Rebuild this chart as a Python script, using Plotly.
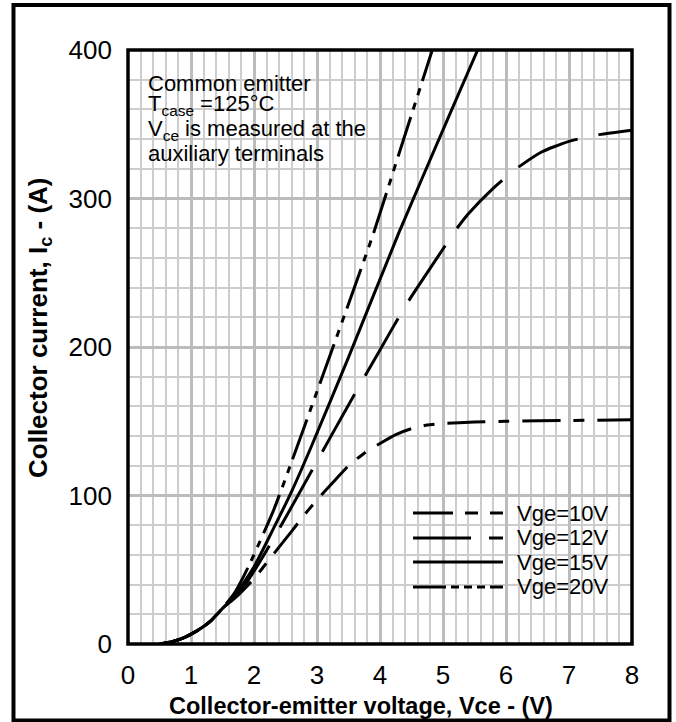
import plotly.graph_objects as go

# Output characteristics, Tcase = 125 °C
vce_10 = [0.5, 0.7, 0.9, 1.1, 1.3, 1.5, 1.7, 2.0, 2.28, 2.6, 2.8, 3.0, 3.3, 3.5, 3.75,
          4.0, 4.25, 4.5, 4.75, 5.0, 5.5, 6.0, 7.0, 8.0]
ic_10 = [0, 1.5, 4.5, 9, 15, 24, 31, 44, 59, 76, 87, 97, 111, 120, 128.5,
         135, 141, 145, 147.5, 148.5, 149.5, 150, 150.5, 151]

vce_12 = [0.5, 0.7, 0.9, 1.1, 1.3, 1.5, 1.7, 1.81, 2.0, 2.31, 2.5, 3.0, 3.5, 4.0, 4.38,
          4.56, 5.0, 5.17, 5.41, 5.8, 6.13, 6.55, 7.0, 7.48, 8.0]
ic_12 = [0, 1.5, 4.5, 9, 15, 24, 32, 37, 49, 71, 85, 123, 161, 198, 226,
         238, 266, 277, 290, 307, 319, 331, 338.5, 343, 346]

vce_15 = [0.5, 0.7, 0.9, 1.1, 1.3, 1.5, 1.7, 2.0, 2.3, 2.6, 2.89, 3.5, 4.3, 5.12, 5.55]
ic_15 = [0, 1.5, 4.5, 9, 15, 24, 33, 52, 77, 103, 131, 193, 277, 358, 400]

vce_20 = [0.5, 0.7, 0.9, 1.1, 1.3, 1.5, 1.7, 1.91, 2.31, 2.6, 3.0, 3.5, 3.9, 4.3, 4.83]
ic_20 = [0, 1.5, 4.5, 9, 15, 24, 35, 52, 90, 123, 170, 229, 277, 330, 400]

series_names = ["Vge=10V", "Vge=12V", "Vge=15V", "Vge=20V"]
curve_dash = ["38px,13px,11px,13px", "66px,21px", "solid", "42px,8px,7px,8px,7px,8px"]
key_dash = ["40px,12px,13px,12px,13px", "58px,18px,14px", "solid",
            "33px,5px,8px,5px,8px,5px,8px,5px,14px"]

x_ticks = [0, 1, 2, 3, 4, 5, 6, 7, 8]
y_ticks = [0, 100, 200, 300, 400]

note_lines = [
    "Common emitter",
    "T<sub>case</sub> =125°C",
    "V<sub>ce</sub> is measured at the",
    "auxiliary terminals",
]

FONT = "Liberation Sans, Arial, Helvetica, sans-serif"

fig = go.Figure()
for xs, ys, dash in zip([vce_10, vce_12, vce_15, vce_20],
                        [ic_10, ic_12, ic_15, ic_20], curve_dash):
    fig.add_trace(go.Scatter(
        x=xs, y=ys, mode="lines",
        line=dict(color="black", width=3, dash=dash, shape="spline", smoothing=0.6),
        showlegend=False, hoverinfo="skip",
    ))

shapes = []
# white panels behind the note and the key
shapes.append(dict(type="rect", xref="paper", yref="paper", x0=0.018, x1=0.484,
                   y0=0.79, y1=0.988, fillcolor="white", line=dict(width=0), layer="between"))
shapes.append(dict(type="rect", xref="paper", yref="paper", x0=0.546, x1=0.96,
                   y0=0.054, y1=0.259, fillcolor="white", line=dict(width=0), layer="between"))

# key line samples
key_y = [0.2205, 0.1785, 0.138, 0.096]
for yk, dash in zip(key_y, key_dash):
    shapes.append(dict(type="line", xref="paper", yref="paper", x0=0.5655, x1=0.744,
                       y0=yk, y1=yk, line=dict(color="black", width=3, dash=dash)))

# plot frame and outer frame
shapes.append(dict(type="rect", xref="paper", yref="paper", x0=0, x1=1, y0=0, y1=1,
                   line=dict(color="black", width=3.5)))
shapes.append(dict(type="rect", xref="paper", yref="paper", x0=-0.2272, x1=1.0744,
                   y0=-0.1288, y1=1.0758, line=dict(color="black", width=4)))

annotations = []
note_y = [0.9438, 0.9067, 0.8646, 0.8259]
for txt, yy in zip(note_lines, note_y):
    annotations.append(dict(text=txt, xref="paper", yref="paper", x=0.0357, y=yy,
                            xanchor="left", yanchor="middle", showarrow=False,
                            font=dict(family=FONT, size=22, color="black")))
for name, yk in zip(series_names, key_y):
    annotations.append(dict(text=name, xref="paper", yref="paper", x=0.7679, y=yk,
                            xanchor="left", yanchor="middle", showarrow=False,
                            font=dict(family=FONT, size=22, color="black")))

annotations.append(dict(text="<b>Collector-emitter voltage, Vce - (V)</b>",
                        xref="paper", yref="paper", x=0.4623, y=-0.1044,
                        xanchor="center", yanchor="middle", showarrow=False,
                        font=dict(family=FONT, size=23.5, color="black")))
annotations.append(dict(text="<b>Collector current, I<sub>c</sub> - (A)</b>",
                        xref="paper", yref="paper", x=-0.1746, y=0.532,
                        xanchor="center", yanchor="middle", showarrow=False, textangle=-90,
                        font=dict(family=FONT, size=26, color="black")))

fig.update_layout(
    width=676, height=722,
    margin=dict(l=128, r=44, t=50, b=78),
    paper_bgcolor="white", plot_bgcolor="white",
    showlegend=False,
    shapes=shapes, annotations=annotations,
    font=dict(family=FONT, color="black"),
)
fig.update_xaxes(
    range=[0, 8], tickvals=x_ticks, ticktext=[str(v) for v in x_ticks],
    showgrid=True, gridcolor="#bcbcbc", gridwidth=3,
    minor=dict(dtick=0.2, showgrid=True, gridcolor="#cdcdcd", gridwidth=2),
    zeroline=False, showline=False, ticks="", ticklabelstandoff=13,
    tickfont=dict(family=FONT, size=26, color="black"),
)
fig.update_yaxes(
    range=[0, 400], tickvals=y_ticks, ticktext=[str(v) for v in y_ticks],
    showgrid=True, gridcolor="#bcbcbc", gridwidth=3,
    minor=dict(dtick=20, showgrid=True, gridcolor="#cdcdcd", gridwidth=2),
    zeroline=False, showline=False, ticks="", ticklabelstandoff=15,
    tickfont=dict(family=FONT, size=26, color="black"),
)

fig.write_html("out.html")
